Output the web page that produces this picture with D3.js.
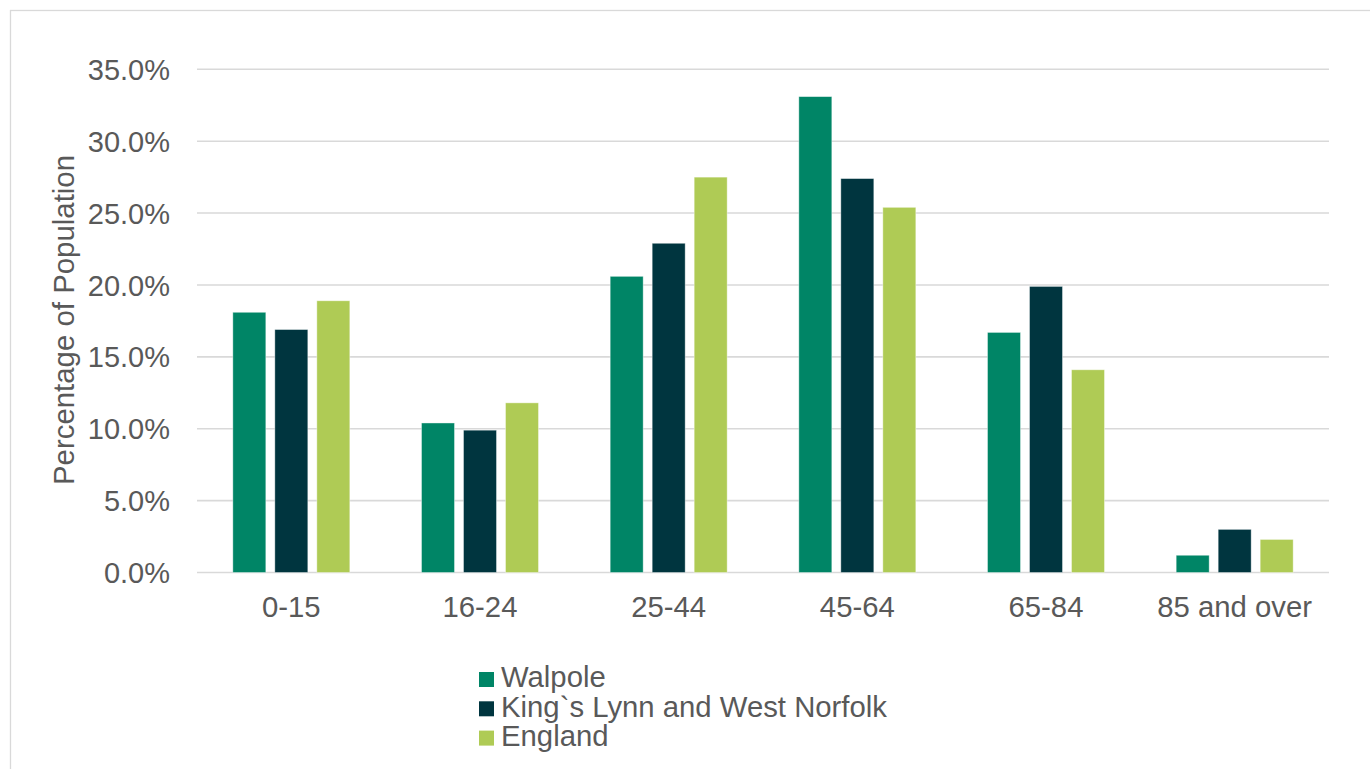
<!DOCTYPE html>
<html>
<head>
<meta charset="utf-8">
<script src="https://cdn.jsdelivr.net/npm/d3@7"></script>
<style>
  html, body { margin: 0; padding: 0; background: #fff; }
  svg { display: block; font-family: "Liberation Sans", Arial, sans-serif; }
</style>
</head>
<body>
<svg id="chart" width="1370" height="769"></svg>
<script>
// Age bands and population share (%) per area
const categories = ["0-15", "16-24", "25-44", "45-64", "65-84", "85 and over"];
const seriesNames = ["Walpole", "King`s Lynn and West Norfolk", "England"];
const walpole = [18.1, 10.4, 20.6, 33.1, 16.7, 1.2];
const kingsLynn = [16.9, 9.9, 22.9, 27.4, 19.9, 3.0];
const england = [18.9, 11.8, 27.5, 25.4, 14.1, 2.3];
const yTicks = [0, 5, 10, 15, 20, 25, 30, 35];
const colors = ["#008566", "#00353F", "#AFCB55"];

const seriesValues = [walpole, kingsLynn, england];

const svg = d3.select("#chart");
const W = 1370, H = 769;

// outer chart frame
svg.append("rect")
  .attr("x", 10.5).attr("y", 10.5)
  .attr("width", W + 20).attr("height", H + 20)
  .attr("fill", "#fff").attr("stroke", "#D9D9D9").attr("stroke-width", 1.3);

const plot = { left: 197, right: 1329, top: 69.3, bottom: 572.5 };

const x = d3.scaleBand().domain(categories).range([plot.left, plot.right]);
const y = d3.scaleLinear().domain([0, 35]).range([plot.bottom, plot.top]);

// gridlines
svg.append("g").selectAll("line").data(yTicks).join("line")
  .attr("x1", plot.left).attr("x2", plot.right)
  .attr("y1", d => y(d)).attr("y2", d => y(d))
  .attr("stroke", "#D9D9D9").attr("stroke-width", 1.6);

// y axis labels
const yAxis = d3.axisLeft(y).tickValues(yTicks)
  .tickSize(0).tickPadding(0)
  .tickFormat(d => d3.format(".1f")(d) + "%");
const gy = svg.append("g").attr("transform", `translate(170,0)`).call(yAxis);
gy.select(".domain").remove();
gy.selectAll("text")
  .attr("fill", "#595959").attr("font-size", 29)
  .attr("font-family", "Liberation Sans, Arial, sans-serif")
  .attr("dy", "0.35em");

// x axis labels
const xAxis = d3.axisBottom(x).tickSize(0).tickPadding(0);
const gx = svg.append("g").attr("transform", `translate(0,${plot.bottom})`).call(xAxis);
gx.select(".domain").remove();
gx.selectAll("text")
  .attr("fill", "#595959").attr("font-size", 29.3)
  .attr("font-family", "Liberation Sans, Arial, sans-serif")
  .attr("dy", null).attr("y", 44.5);

// bars
const barW = 33, step = 42;
const offsets = [-step, 0, step];
seriesValues.forEach((vals, si) => {
  svg.append("g").selectAll("rect").data(vals).join("rect")
    .attr("x", (d, i) => x(categories[i]) + x.bandwidth() / 2 + offsets[si] - barW / 2)
    .attr("y", d => y(d))
    .attr("width", barW)
    .attr("height", d => y(0) - y(d))
    .attr("fill", colors[si])
    .attr("stroke", "#ffffff").attr("stroke-opacity", 0.5).attr("stroke-width", 0.8);
});

// y axis title
svg.append("text")
  .attr("transform", "translate(74,320) rotate(-90)")
  .attr("text-anchor", "middle")
  .attr("fill", "#595959").attr("font-size", 29.4)
  .text("Percentage of Population");

// legend
const legend = svg.append("g").attr("transform", "translate(479,672)");
seriesNames.forEach((name, i) => {
  const g = legend.append("g").attr("transform", `translate(0,${i * 29.3})`);
  g.append("rect").attr("x", 0).attr("y", 0).attr("width", 15).attr("height", 15)
    .attr("fill", colors[i]);
  g.append("text").attr("x", 22).attr("y", 15.3)
    .attr("fill", "#595959").attr("font-size", 29.3)
    .text(name);
});
</script>
</body>
</html>
